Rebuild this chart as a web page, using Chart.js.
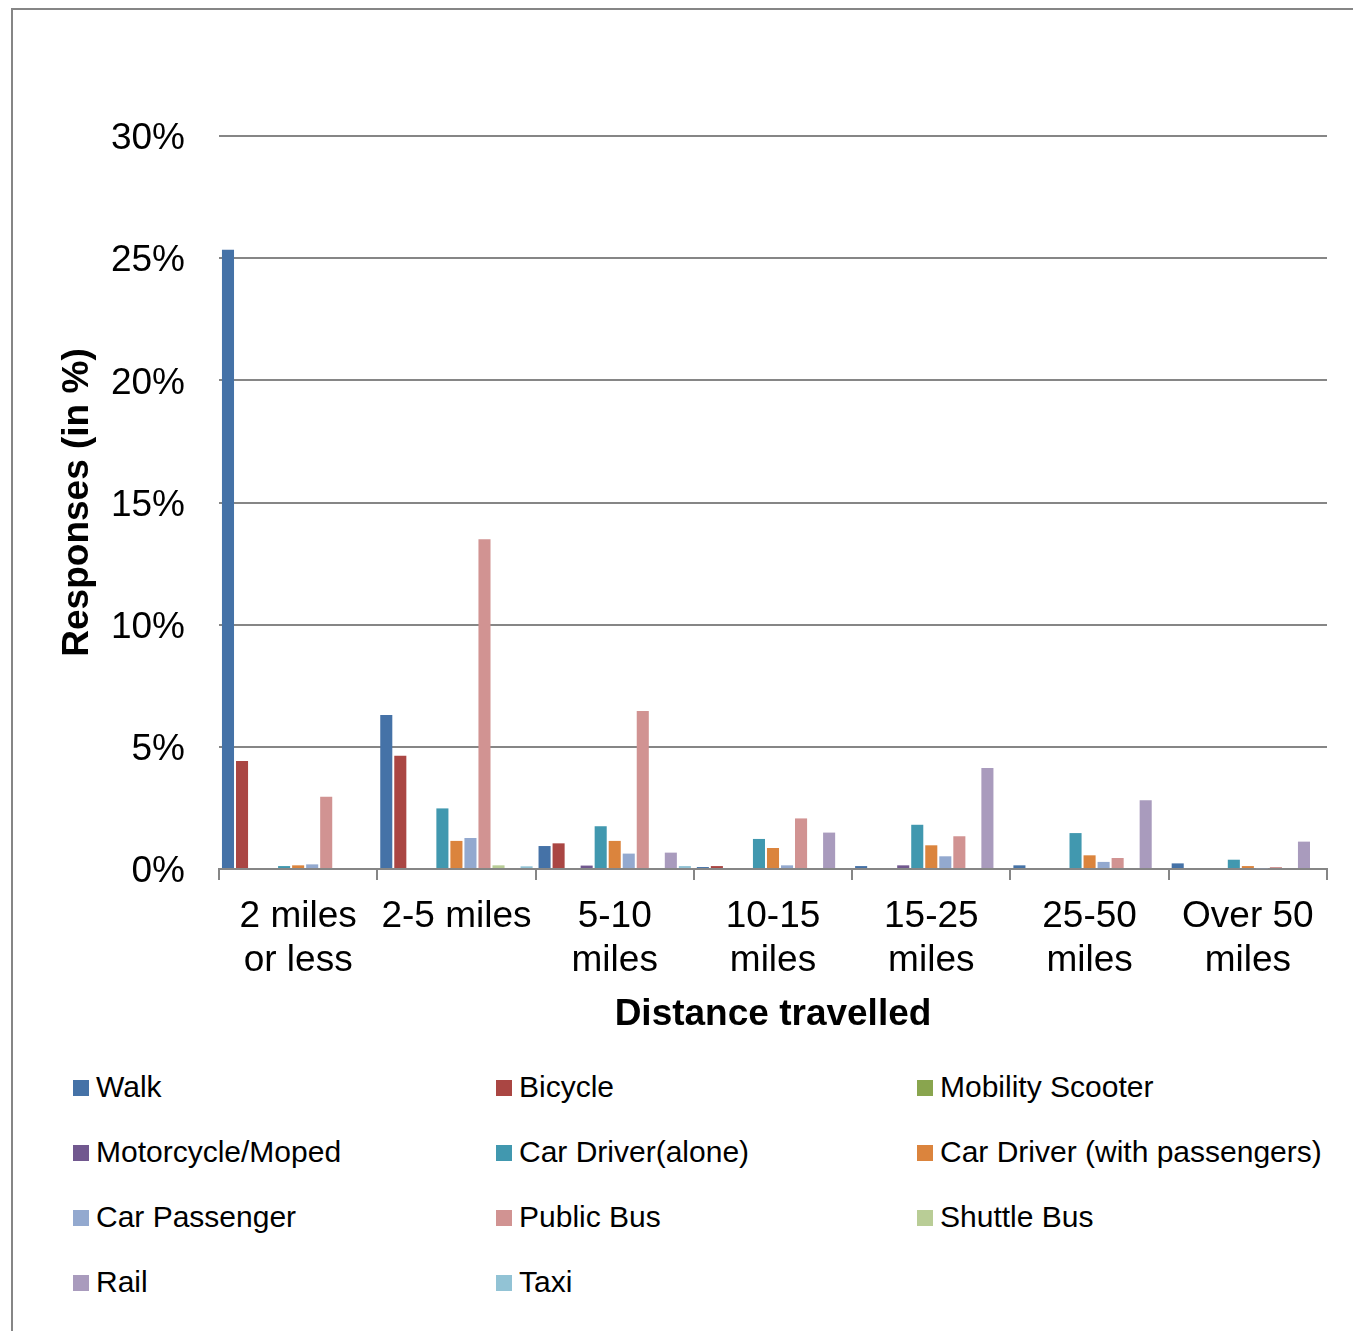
<!DOCTYPE html>
<html>
<head>
<meta charset="utf-8">
<script src="https://cdn.jsdelivr.net/npm/chart.js@4"></script>
<style>
  body { margin: 0; background: #fff; font-family: "Liberation Sans", Arial, sans-serif; }
  #frame { position: absolute; left: 11px; top: 8px; width: 1400px; height: 1400px;
           border-left: 2px solid #868686; border-top: 2px solid #868686; }
  #grafico { position: absolute; left: 0; top: 0; }
  #legenda { position: absolute; left: 0; top: 0; }
  .item { position: absolute; font-size: 30px; line-height: 34px; color: #000; white-space: nowrap; }
  .item span.caixa { display: inline-block; width: 16px; height: 16px; margin-right: 7px; vertical-align: 1px; }
</style>
</head>
<body>
<div id="frame"></div>
<canvas id="grafico" width="1353" height="1040"></canvas>
<div id="legenda"></div>
<script>
const categorias = [['2 miles', 'or less'], '2-5 miles', ['5-10', 'miles'], ['10-15', 'miles'],
                    ['15-25', 'miles'], ['25-50', 'miles'], ['Over 50', 'miles']];

const walk        = [25.34, 6.30, 0.94, 0.08, 0.12, 0.15, 0.23];
const bicycle     = [4.42, 4.63, 1.05, 0.12, 0, 0, 0];
const scooter     = [0, 0, 0, 0, 0, 0, 0];
const moped       = [0, 0, 0.14, 0, 0.15, 0, 0];
const carAlone    = [0.12, 2.48, 1.75, 1.23, 1.81, 1.47, 0.38];
const carWithPass = [0.15, 1.15, 1.15, 0.86, 0.97, 0.56, 0.12];
const carPass     = [0.19, 1.27, 0.63, 0.15, 0.52, 0.29, 0.03];
const publicBus   = [2.96, 13.5, 6.47, 2.07, 1.34, 0.45, 0.08];
const shuttleBus  = [0, 0.15, 0, 0, 0, 0, 0];
const rail        = [0, 0, 0.67, 1.49, 4.13, 2.81, 1.12];
const taxi        = [0, 0.11, 0.12, 0, 0, 0, 0.04];

const series = [
  ['Walk', walk, '#4572A7'],
  ['Bicycle', bicycle, '#AA4643'],
  ['Mobility Scooter', scooter, '#89A54E'],
  ['Motorcycle/Moped', moped, '#71588F'],
  ['Car Driver(alone)', carAlone, '#4198AF'],
  ['Car Driver (with passengers)', carWithPass, '#DB843D'],
  ['Car Passenger', carPass, '#93A9CF'],
  ['Public Bus', publicBus, '#D19392'],
  ['Shuttle Bus', shuttleBus, '#B9CD96'],
  ['Rail', rail, '#A99BBD'],
  ['Taxi', taxi, '#92C3D5']
];

const cinza = '#868686';

const ctx = document.getElementById('grafico').getContext('2d');
new Chart(ctx, {
  type: 'bar',
  data: {
    labels: categorias,
    datasets: series.map(s => ({
      label: s[0],
      data: s[1],
      backgroundColor: s[2],
      borderWidth: 0,
      categoryPercentage: 0.975,
      barPercentage: 0.86
    }))
  },
  options: {
    responsive: false,
    animation: false,
    devicePixelRatio: 1,
    layout: { padding: { left: 50, top: 136, right: 26, bottom: 3 } },
    plugins: { legend: { display: false }, tooltip: { enabled: false } },
    scales: {
      x: {
        grid: { drawOnChartArea: false, drawTicks: true, tickLength: 11, color: cinza, lineWidth: 2 },
        border: { display: true, color: cinza, width: 2 },
        ticks: { color: '#000', padding: 15, maxRotation: 0, autoSkip: false,
                 font: { family: 'Liberation Sans', size: 37, lineHeight: 1.19 } },
        title: { display: true, text: 'Distance travelled', color: '#000', padding: 0,
                 font: { family: 'Liberation Sans', size: 37, weight: 'bold', lineHeight: 1.2 } },
        afterFit: s => { s.height = 1040 - 3 - 869; }
      },
      y: {
        min: 0, max: 30,
        grid: { color: cinza, lineWidth: 2, drawTicks: false },
        border: { display: false },
        ticks: { stepSize: 5, color: '#000', padding: 34, labelOffset: 3, callback: v => v + '%',
                 font: { family: 'Liberation Sans', size: 37 } },
        title: { display: true, text: 'Responses (in %)', color: '#000', padding: { top: 6, bottom: 0 },
                 font: { family: 'Liberation Sans', size: 37, weight: 'bold', lineHeight: 1.2 } },
        afterFit: s => { s.width = 219 - 50; }
      }
    }
  }
});

// legenda em 3 colunas
const legenda = document.getElementById('legenda');
const colunasX = [73, 496, 917];
const linhasY = [1087, 1152, 1217, 1282];
series.forEach((s, i) => {
  const el = document.createElement('div');
  el.className = 'item';
  el.style.left = colunasX[i % 3] + 'px';
  el.style.top = (linhasY[Math.floor(i / 3)] - 17) + 'px';
  el.innerHTML = `<span class="caixa" style="background:${s[2]}"></span>${s[0]}`;
  legenda.appendChild(el);
});
</script>
</body>
</html>
